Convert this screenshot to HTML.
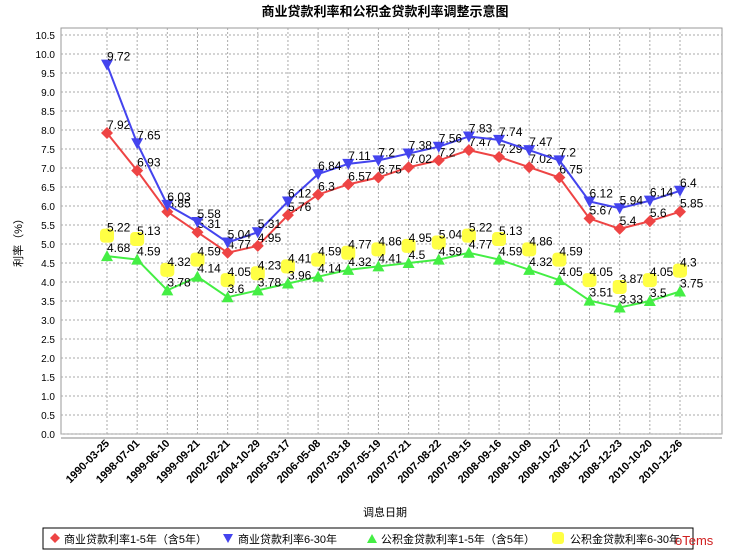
<!DOCTYPE html>
<html><head><meta charset="utf-8"><style>
body{margin:0;background:#fff;}
svg text{font-family:"Liberation Sans","Noto Sans CJK SC",sans-serif;}
</style></head><body>
<svg id="c" width="735" height="551" xmlns="http://www.w3.org/2000/svg">
<text x="385" y="16" text-anchor="middle" font-size="13" font-weight="bold">商业贷款利率和公积金贷款利率调整示意图</text>
<text transform="translate(22,240) rotate(-90)" text-anchor="middle" font-size="11">利率（%）</text>
<text x="385" y="516" text-anchor="middle" font-size="11">调息日期</text>
<g id="grid"></g><g id="series"></g>
<g>
<rect x="43" y="528" width="650" height="21" fill="#fff" stroke="#000"/>
<path d="M55,533 L60,538 L55,543 L50,538Z" fill="#ee4444"/>
<text x="64" y="543" font-size="11">商业贷款利率1-5年（含5年）</text>
<path d="M223,534 L233,534 L228,543Z" fill="#4444ee"/>
<text x="238" y="543" font-size="11">商业贷款利率6-30年</text>
<path d="M367,543 L377,543 L372,534Z" fill="#44ee44"/>
<text x="381" y="543" font-size="11">公积金贷款利率1-5年（含5年）</text>
<rect x="552" y="532" width="12" height="12" rx="3" fill="#ffff44"/>
<text x="570" y="543" font-size="11">公积金贷款利率6-30年</text>
<text x="675" y="545" font-size="13" fill="#d02020">oTems</text>
</g>
</svg>
<script>
const categories=["1990-03-25","1998-07-01","1999-06-10","1999-09-21","2002-02-21","2004-10-29","2005-03-17","2006-05-08","2007-03-18","2007-05-19","2007-07-21","2007-08-22","2007-09-15","2008-09-16","2008-10-09","2008-10-27","2008-11-27","2008-12-23","2010-10-20","2010-12-26"];
const commercial15=[7.92,6.93,5.85,5.31,4.77,4.95,5.76,6.3,6.57,6.75,7.02,7.2,7.47,7.29,7.02,6.75,5.67,5.4,5.6,5.85];
const commercial630=[9.72,7.65,6.03,5.58,5.04,5.31,6.12,6.84,7.11,7.2,7.38,7.56,7.83,7.74,7.47,7.2,6.12,5.94,6.14,6.4];
const fund15=[4.68,4.59,3.78,4.14,3.6,3.78,3.96,4.14,4.32,4.41,4.5,4.59,4.77,4.59,4.32,4.05,3.51,3.33,3.5,3.75];
const fund630=[5.22,5.13,4.32,4.59,4.05,4.23,4.41,4.59,4.77,4.86,4.95,5.04,5.22,5.13,4.86,4.59,4.05,3.87,4.05,4.3];
const yTicks=[0,0.5,1,1.5,2,2.5,3,3.5,4,4.5,5,5.5,6,6.5,7,7.5,8,8.5,9,9.5,10,10.5];
const NS="http://www.w3.org/2000/svg";
const L=61,R=722,T=28,B=434;
const x=i=>107+i*(680-107)/(categories.length-1);
const y=v=>B-38*v;
function mk(tag,at,parent){const e=document.createElementNS(NS,tag);for(const k in at)e.setAttribute(k,at[k]);parent.appendChild(e);return e;}
const g=document.getElementById('grid'),s=document.getElementById('series');
mk('rect',{x:L,y:T,width:R-L,height:B-T,fill:'#fff',stroke:'#999'},g);
yTicks.forEach(v=>{
 const ln=mk('line',{x1:L,x2:R,y1:y(v),y2:y(v),stroke:'#aaa','stroke-dasharray':'2,2'},g);
 
 
 const t=mk('text',{x:L-6,y:y(v)+4,'text-anchor':'end','font-size':'10'},g);t.textContent=v.toFixed(1);
 
 
});
categories.forEach((c,i)=>{
 const ln=mk('line',{x1:x(i),x2:x(i),y1:T,y2:B,stroke:'#aaa','stroke-dasharray':'2,2'},g);
 
 
 const t=mk('text',{transform:`translate(${x(i)+3},${B+10}) rotate(-45)`,'text-anchor':'end','font-size':'11','font-weight':'bold'},g);t.textContent=c;
 
 
});
mk('line',{x1:L,x2:R,y1:B+4,y2:B+4,stroke:'#888'},g);
function poly(d){return d.map((v,i)=>(i?'L':'M')+x(i)+','+y(v)).join(' ');}
function marker(type,cx,cy,col){
 if(type==='d')return mk('path',{d:`M${cx},${cy-6} L${cx+6},${cy} L${cx},${cy+6} L${cx-6},${cy}Z`,fill:col},s);
 if(type==='v')return mk('path',{d:`M${cx-6},${cy-5} L${cx+6},${cy-5} L${cx},${cy+6}Z`,fill:col},s);
 if(type==='^')return mk('path',{d:`M${cx-6},${cy+5} L${cx+6},${cy+5} L${cx},${cy-6}Z`,fill:col},s);
 return mk('rect',{x:cx-7,y:cy-7,width:14,height:14,rx:4,fill:col},s);
}
const defs=[[fund630,'#ffff44','s','fund-6-30',0],[fund15,'#44ee44','^','fund-1-5',2],[commercial15,'#ee4444','d','commercial-1-5',2],[commercial630,'#4444ee','v','commercial-6-30',2]];
defs.forEach(([d,col,m,nm,w])=>{
 const p=mk('path',{d:poly(d),fill:'none',stroke:col,'stroke-width':w},s);
 
 
 d.forEach((v,i)=>{
  const e=marker(m,x(i),y(v),col);
  
  
  const t=mk('text',{x:x(i),y:y(v)-4,'font-size':'12'},s);t.textContent=String(v);
  
  
 });
});
</script>
</body></html>
